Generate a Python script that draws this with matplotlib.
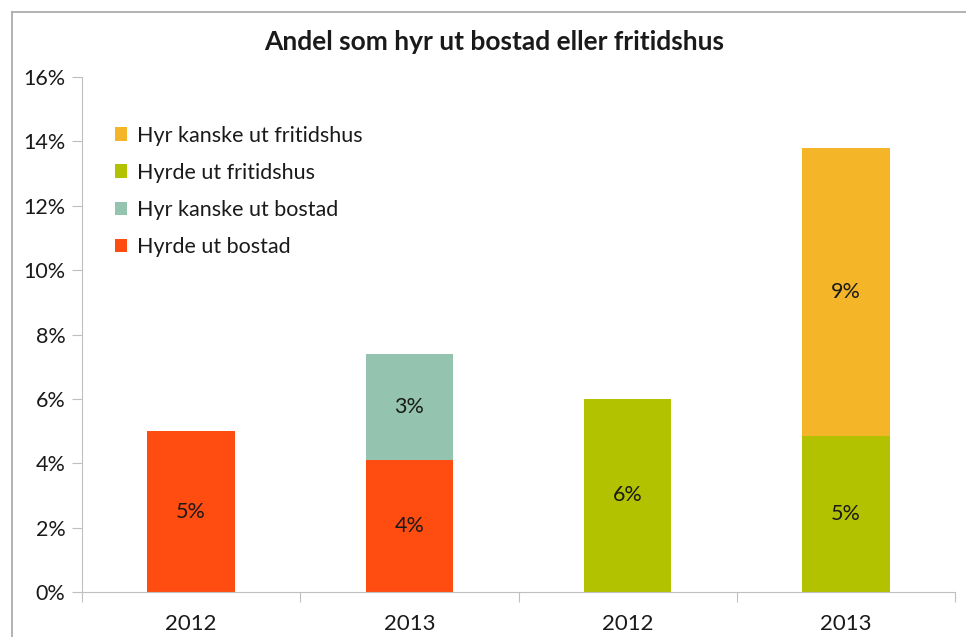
import numpy as np
import matplotlib.pyplot as plt
from matplotlib.ticker import FuncFormatter, FixedLocator
from matplotlib.lines import Line2D

plt.rcParams['font.family'] = ['Lato', 'DejaVu Sans']

categories = ['2012', '2013', '2012', '2013']
hyrde_bostad = [5.0, 4.1, 0, 0]
kanske_bostad = [0, 3.3, 0, 0]
hyrde_fritid = [0, 0, 6.0, 4.85]
kanske_fritid = [0, 0, 0, 8.95]

series = [
    ('Hyrde ut bostad', hyrde_bostad, '#FF4C10'),
    ('Hyr kanske ut bostad', kanske_bostad, '#94C3AF'),
    ('Hyrde ut fritidshus', hyrde_fritid, '#B3C200'),
    ('Hyr kanske ut fritidshus', kanske_fritid, '#F4B628'),
]

fig = plt.figure(figsize=(9.66, 6.37), dpi=100)
ax = fig.add_axes([0.0849, 0.0706, 0.9037, 0.8085])

x = np.arange(len(categories))
bottom = np.zeros(len(categories))
handles = []
for name, vals, col in series:
    vals = np.array(vals, dtype=float)
    bars = ax.bar(x, vals, 0.4, bottom=bottom, color=col, label=name)
    for xi, v, b in zip(x, vals, bottom):
        if v > 0:
            ax.text(xi, b + v / 2, '%d%%' % round(v + 1e-9), ha='center', va='center',
                    fontsize=15.5, color='#1a1a1a')
    bottom += vals
    handles.append(bars)

ax.set_xlim(-0.5, 3.5)
ax.set_ylim(0, 16)
ax.set_yticks(np.arange(0, 17, 2))
ax.yaxis.set_major_formatter(FuncFormatter(lambda v, p: '%d%%' % v))
ax.xaxis.set_major_locator(FixedLocator(np.arange(-0.5, 3.6, 1)))
ax.xaxis.set_minor_locator(FixedLocator(x))
ax.set_xticklabels([])
ax.set_xticklabels(categories, minor=True)
ax.tick_params(axis='x', which='major', length=7, color='#bfbfbf', direction='out')
ax.tick_params(axis='x', which='minor', length=0, pad=16, labelsize=16, labelcolor='#1a1a1a')
ax.tick_params(axis='y', length=7, color='#bfbfbf', labelsize=15.5, labelcolor='#1a1a1a', pad=5)

for s in ['top', 'right']:
    ax.spines[s].set_visible(False)
for s in ['left', 'bottom']:
    ax.spines[s].set_color('#bfbfbf')

leg = ax.legend(handles[::-1], [s[0] for s in series][::-1], loc='upper left',
                bbox_to_anchor=(0.02, 0.935), frameon=False, fontsize=15.5,
                handlelength=0.6, handleheight=0.6, handletextpad=0.45, labelspacing=0.8,
                borderaxespad=0.3)
for t in leg.get_texts():
    t.set_color('#1a1a1a')

fig.text(494 / 966, 1 - 42 / 637, 'Andel som hyr ut bostad eller fritidshus', ha='center', va='center',
         fontsize=19, fontweight='bold', color='#1a1a1a')

fig.add_artist(Line2D([12 / 966, 12 / 966], [0, 1 - 12 / 637], transform=fig.transFigure, color='#a6a6a6', lw=1.2))
fig.add_artist(Line2D([12 / 966, 1], [1 - 12 / 637, 1 - 12 / 637], transform=fig.transFigure, color='#a6a6a6', lw=1.2))

fig.savefig('out.png', dpi=100)
